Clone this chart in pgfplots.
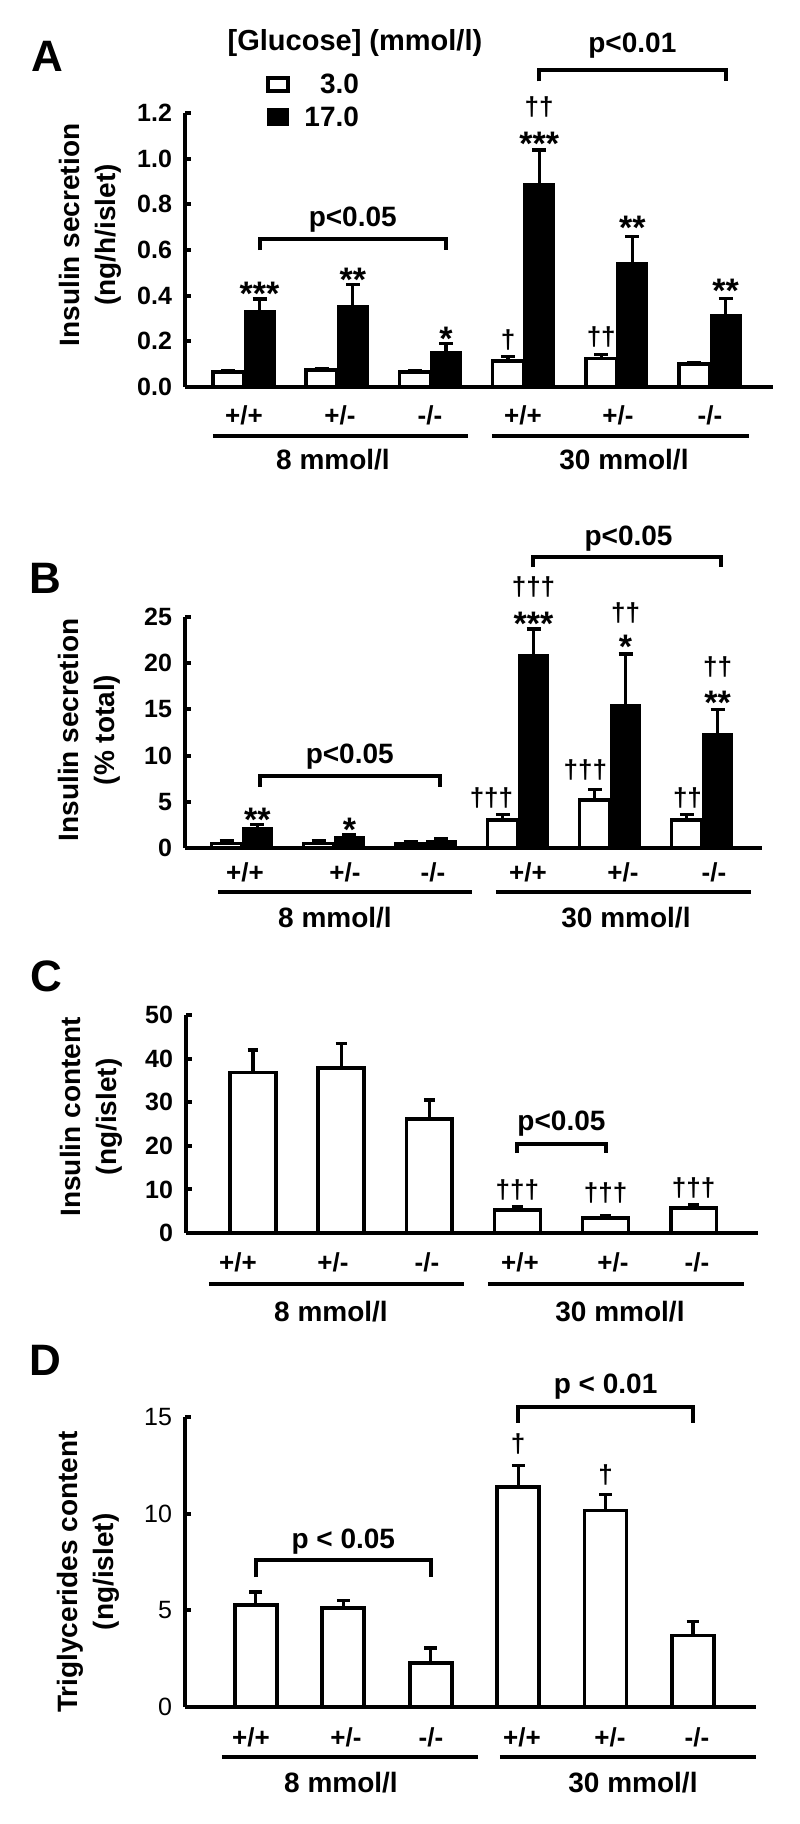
\documentclass[border=0pt]{standalone}
\usepackage{fontspec}
\setmainfont{Liberation Sans}
\usepackage{pgfplots}
\pgfplotsset{compat=1.18}
\newcommand\fs[1]{\fontsize{#1bp}{#1bp}\selectfont\bfseries}
\pgfplotsset{
  panel/.style={
    scale only axis, clip=false, anchor=south west,
    axis lines=left, axis line style={-, line width=2bp},
    ymin=0, xtick=\empty,
    tick align=inside, major tick length=3bp,
    ytick style={line width=2bp, black},
    yticklabel style={font=\fs{12.5}, anchor=east, xshift=-3bp},
    /pgf/number format/assume math mode=true,
    ybar, bar shift=0pt,
  },
  wbar/.style={fill=white, draw=black, line width=1.8bp,
    error bars/.cd, y dir=plus, y explicit, error mark=-,
    error bar style={line width=1.6bp, black},
    error mark options={rotate=90, line width=1.6bp, black, mark size=#1}},
  wbar/.default=3.5bp,
  bbar/.style={fill=black, draw=black, line width=0.5bp,
    error bars/.cd, y dir=plus, y explicit, error mark=-,
    error bar style={line width=1.6bp, black},
    error mark options={rotate=90, line width=1.6bp, black, mark size=3.5bp}},
}
\tikzset{
  st/.style={font=\fs{17}, yshift=-3.5bp, inner sep=0pt},
  dg/.style={font=\fs{13}, inner sep=0pt},
  pv/.style={font=\fs{14}, inner sep=0pt},
}
\newcommand\brk[4]{\draw[line width=2bp] (axis cs:#1,#3) -- (axis cs:#1,#4) -- (axis cs:#2,#4) -- (axis cs:#2,#3);}
\begin{document}
\begin{tikzpicture}
\useasboundingbox (0,0) rectangle (400bp,-912bp);
% ---------------- Panel A
\begin{axis}[panel, at={(92.5bp,-193.5bp)}, width=294bp, height=137bp,
  xmin=0.367, xmax=6.676, ymax=1.2, ytick={0,0.2,0.4,0.6,0.8,1.0,1.2},
  yticklabel style={/pgf/number format/.cd, fixed, fixed zerofill, precision=1},
  bar width=0.333]
\addplot[wbar] table[x=x,y=y,y error=e]{
x y e
0.833 0.065 0.008
1.833 0.075 0.006
2.833 0.065 0.006
3.833 0.115 0.020
4.833 0.125 0.016
5.833 0.100 0.006
};
\addplot[bbar] table[x=x,y=y,y error=e]{
x y e
1.167 0.335 0.050
2.167 0.355 0.095
3.167 0.155 0.035
4.167 0.893 0.145
5.167 0.545 0.115
6.167 0.318 0.068
};
\node[st] at (axis cs:1.167,0.44) {***};
\node[st] at (axis cs:2.167,0.50) {**};
\node[st] at (axis cs:3.167,0.24) {*};
\node[dg] at (axis cs:3.833,0.205) {†};
\node[st] at (axis cs:4.167,1.097) {***};
\node[dg] at (axis cs:4.167,1.228) {††};
\node[dg] at (axis cs:4.833,0.22) {††};
\node[st] at (axis cs:5.167,0.73) {**};
\node[st] at (axis cs:6.167,0.45) {**};
\brk{1.167}{3.167}{0.60}{0.648}
\node[pv] at (axis cs:2.167,0.732) {p<0.05};
\brk{4.167}{6.167}{1.339}{1.387}
\node[pv] at (axis cs:5.167,1.493) {p<0.01};
\end{axis}
% ---------------- Panel B
\begin{axis}[panel, at={(92.5bp,-424bp)}, width=288.5bp, height=115.5bp,
  xmin=0.38, xmax=6.65, ymax=25, ytick={0,5,10,15,20,25},
  bar width=0.333]
\addplot[wbar] table[x=x,y=y,y error=e]{
x y e
0.833 0.5 0.35
1.833 0.5 0.3
2.833 0.45 0.25
3.833 3.0 0.6
4.833 5.2 1.1
5.833 3.0 0.6
};
\addplot[bbar] table[x=x,y=y,y error=e]{
x y e
1.167 2.2 0.35
2.167 1.25 0.2
3.167 0.83 0.15
4.167 20.9 2.8
5.167 15.5 5.5
6.167 12.4 2.6
};
\node[st] at (axis cs:1.167,3.8) {**};
\node[st] at (axis cs:2.167,2.7) {*};
\node[dg] at (axis cs:3.71,5.4) {†††};
\node[st] at (axis cs:4.167,25.0) {***};
\node[dg] at (axis cs:4.167,28.2) {†††};
\node[dg] at (axis cs:4.73,8.45) {†††};
\node[st] at (axis cs:5.167,22.5) {*};
\node[dg] at (axis cs:5.167,25.4) {††};
\node[dg] at (axis cs:5.84,5.4) {††};
\node[st] at (axis cs:6.167,16.5) {**};
\node[dg] at (axis cs:6.167,19.6) {††};
\brk{1.2}{3.15}{6.65}{7.8}
\node[pv] at (axis cs:2.17,9.9) {p<0.05};
\brk{4.16}{6.2}{30.4}{31.5}
\node[pv] at (axis cs:5.2,33.5) {p<0.05};
\end{axis}
% ---------------- Panel C
\begin{axis}[panel, at={(93bp,-616.5bp)}, width=286bp, height=109bp,
  xmin=0.24, xmax=6.73, ymax=50, ytick={0,10,20,30,40,50},
  bar width=0.52]
\addplot[wbar=2.7bp] table[x=x,y=y,y error=e]{
x y e
1 36.8 5.2
2 37.9 5.5
3 26.1 4.4
4 5.3 0.7
5 3.4 0.6
6 5.7 0.8
};
\node[dg] at (axis cs:4,9.9) {†††};
\node[dg] at (axis cs:5,9.2) {†††};
\node[dg] at (axis cs:6,10.3) {†††};
\brk{4}{5}{18.3}{20.5}
\node[pv] at (axis cs:4.5,25.2) {p<0.05};
\end{axis}
% ---------------- Panel D
\begin{axis}[panel, at={(92.5bp,-853.5bp)}, width=285.5bp, height=145bp,
  xmin=0.19, xmax=6.72, ymax=15, ytick={0,5,10,15},
  yticklabel style={font=\fontsize{12.5bp}{12.5bp}\selectfont\mdseries},
  bar width=0.48]
\addplot[wbar=3.2bp] table[x=x,y=y,y error=e]{
x y e
1 5.29 0.66
2 5.12 0.40
3 2.28 0.77
4 11.38 1.12
5 10.17 0.83
6 3.70 0.73
};
\node[dg] at (axis cs:4,13.6) {†};
\node[dg] at (axis cs:5,12.0) {†};
\brk{1}{3}{6.72}{7.59}
\node[pv] at (axis cs:2,8.53) {p < 0.05};
\brk{4}{6}{14.7}{15.5}
\node[pv] at (axis cs:5,16.55) {p < 0.01};
\end{axis}
% ---------------- texts in pixel units
\begin{scope}[x=0.5bp,y=-0.5bp]
\node[font=\fs{22}] at (47,56) {A};
\node[font=\fs{22}] at (45,578) {B};
\node[font=\fs{22}] at (46,976) {C};
\node[font=\fs{22}] at (45,1360) {D};
% legend
\node[font=\fs{14.5}] at (355,43) {[Glucose] (mmol/l)};
\draw[line width=1.8bp, fill=white] (268,78) rectangle (288,91);
\fill (267,108) rectangle (289,126);
\node[font=\fs{14}, anchor=east] at (366,84) {3.0};
\node[font=\fs{14}, anchor=east] at (366,117) {17.0};
% y labels
\tikzset{yl/.style={rotate=90, align=center, font=\fontsize{14bp}{18bp}\selectfont\bfseries}}
\node[yl] at (90,235) {Insulin secretion\\(ng/h/islet)};
\node[yl] at (89,730) {Insulin secretion\\(\% total)};
\node[yl] at (91,1117) {Insulin content\\(ng/islet)};
\node[yl] at (88,1572) {Triglycerides content\\(ng/islet)};
% group lines and labels
\tikzset{gl/.style={line width=2bp}, gt/.style={font=\fs{14}}, ct/.style={font=\fs{13}}}
\draw[gl] (213,436) -- (468,436); \draw[gl] (492,436) -- (749,436);
\node[gt] at (333,460) {8 mmol/l}; \node[gt] at (624,460) {30 mmol/l};
\draw[gl] (218,892) -- (472,892); \draw[gl] (496,892) -- (751,892);
\node[gt] at (335,918) {8 mmol/l}; \node[gt] at (626,918) {30 mmol/l};
\draw[gl] (209,1284) -- (464,1284); \draw[gl] (488,1284) -- (744,1284);
\node[gt] at (331,1312) {8 mmol/l}; \node[gt] at (620,1312) {30 mmol/l};
\draw[gl] (222,1757) -- (478,1757); \draw[gl] (500,1757) -- (756,1757);
\node[gt] at (341,1783) {8 mmol/l}; \node[gt] at (633,1783) {30 mmol/l};
% category labels
\foreach \x/\t in {244/+{/}+,340/+{/}-,430/-{/}-,523/+{/}+,618/+{/}-,710/-{/}-} \node[ct] at (\x,415) {\t};
\foreach \x/\t in {245/+{/}+,345/+{/}-,433/-{/}-,528/+{/}+,623/+{/}-,714/-{/}-} \node[ct] at (\x,872) {\t};
\foreach \x/\t in {238/+{/}+,333/+{/}-,427/-{/}-,520/+{/}+,613/+{/}-,697/-{/}-} \node[ct] at (\x,1262) {\t};
\foreach \x/\t in {251/+{/}+,346/+{/}-,431/-{/}-,522/+{/}+,610/+{/}-,697/-{/}-} \node[ct] at (\x,1737) {\t};
\end{scope}
\end{tikzpicture}
\end{document}
